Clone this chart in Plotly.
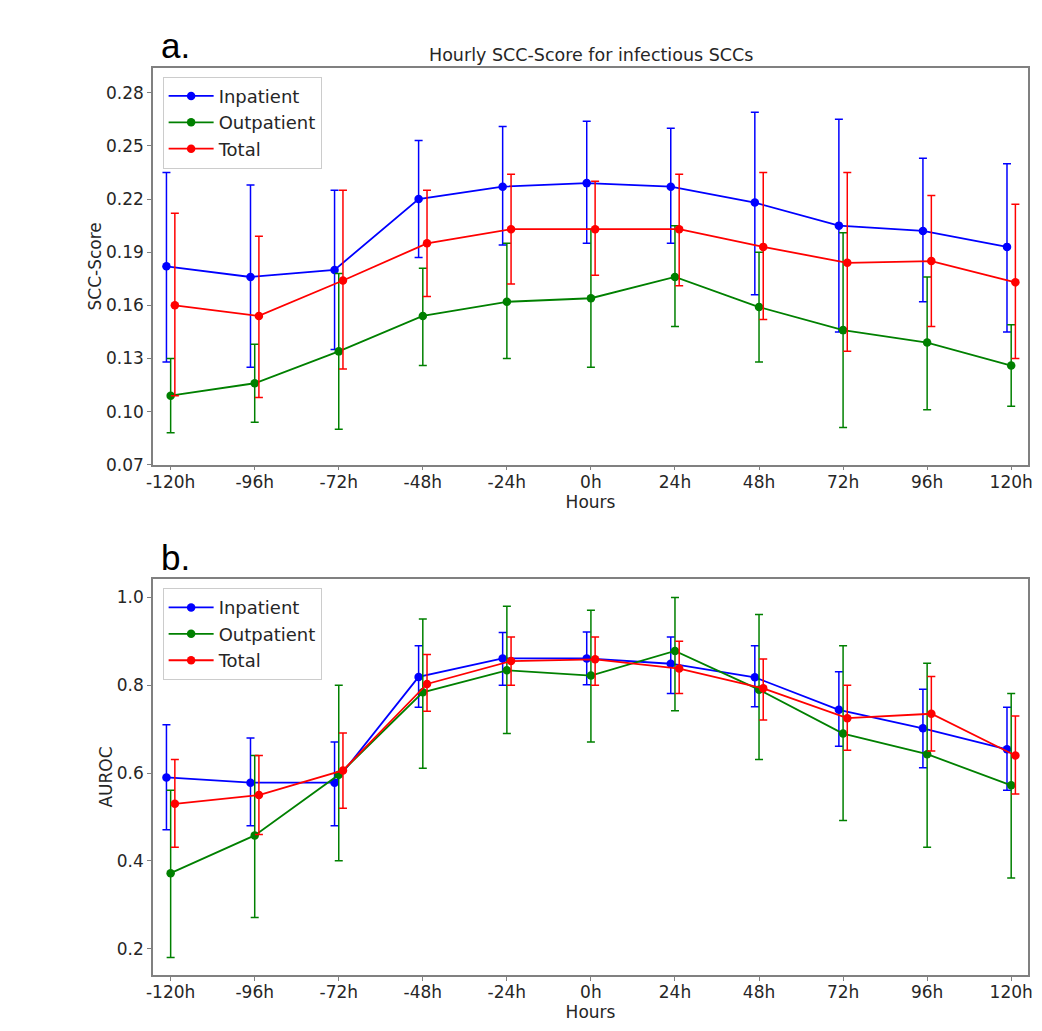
import plotly.graph_objects as go

hours = ["-120h", "-96h", "-72h", "-48h", "-24h", "0h", "24h", "48h", "72h", "96h", "120h"]
series_names = ["Inpatient", "Outpatient", "Total"]

# Panel a: SCC-Score (value, lower bound, upper bound)
scc_in = [0.182, 0.176, 0.180, 0.220, 0.227, 0.229, 0.227, 0.218, 0.205, 0.202, 0.193]
scc_in_lo = [0.128, 0.125, 0.135, 0.187, 0.194, 0.195, 0.195, 0.166, 0.145, 0.162, 0.145]
scc_in_hi = [0.235, 0.228, 0.225, 0.253, 0.261, 0.264, 0.260, 0.269, 0.265, 0.243, 0.240]

scc_out = [0.109, 0.116, 0.134, 0.154, 0.162, 0.164, 0.176, 0.159, 0.146, 0.139, 0.126]
scc_out_lo = [0.088, 0.094, 0.090, 0.126, 0.130, 0.125, 0.148, 0.128, 0.091, 0.101, 0.103]
scc_out_hi = [0.130, 0.138, 0.178, 0.181, 0.195, 0.203, 0.205, 0.190, 0.201, 0.176, 0.149]

scc_tot = [0.160, 0.154, 0.174, 0.195, 0.203, 0.203, 0.203, 0.193, 0.184, 0.185, 0.173]
scc_tot_lo = [0.109, 0.108, 0.124, 0.165, 0.172, 0.177, 0.171, 0.152, 0.134, 0.148, 0.130]
scc_tot_hi = [0.212, 0.199, 0.225, 0.225, 0.234, 0.230, 0.234, 0.235, 0.235, 0.222, 0.217]

# Panel b: AUROC (value, lower bound, upper bound)
auc_in = [0.590, 0.578, 0.578, 0.819, 0.861, 0.861, 0.849, 0.818, 0.744, 0.702, 0.654]
auc_in_lo = [0.471, 0.480, 0.480, 0.750, 0.800, 0.801, 0.781, 0.751, 0.661, 0.612, 0.561]
auc_in_hi = [0.710, 0.680, 0.671, 0.890, 0.920, 0.921, 0.910, 0.890, 0.831, 0.791, 0.750]

auc_out = [0.372, 0.458, 0.596, 0.784, 0.834, 0.822, 0.878, 0.790, 0.690, 0.643, 0.572]
auc_out_lo = [0.180, 0.271, 0.400, 0.611, 0.690, 0.671, 0.742, 0.631, 0.492, 0.431, 0.361]
auc_out_hi = [0.561, 0.640, 0.800, 0.951, 0.980, 0.971, 1.000, 0.961, 0.890, 0.850, 0.781]

auc_tot = [0.530, 0.550, 0.606, 0.803, 0.855, 0.859, 0.838, 0.793, 0.725, 0.735, 0.640]
auc_tot_lo = [0.431, 0.460, 0.520, 0.741, 0.800, 0.800, 0.781, 0.721, 0.652, 0.650, 0.552]
auc_tot_hi = [0.631, 0.640, 0.691, 0.870, 0.910, 0.910, 0.900, 0.860, 0.800, 0.820, 0.730]

colors = ["#0000ff", "#008000", "#ff0000"]
offsets = [-0.05, 0.0, 0.05]
base_x = list(range(len(hours)))

font_family = "DejaVu Sans"
text_color = "#262626"

fig = go.Figure()

panels = [
    ("x", "y", "legend", [(scc_in, scc_in_lo, scc_in_hi), (scc_out, scc_out_lo, scc_out_hi), (scc_tot, scc_tot_lo, scc_tot_hi)]),
    ("x2", "y2", "legend2", [(auc_in, auc_in_lo, auc_in_hi), (auc_out, auc_out_lo, auc_out_hi), (auc_tot, auc_tot_lo, auc_tot_hi)]),
]

for xa, ya, leg, data in panels:
    for name, color, off, (vals, lo, hi) in zip(series_names, colors, offsets, data):
        fig.add_trace(go.Scatter(
            x=[b + off for b in base_x], y=vals, name=name,
            mode="lines+markers", xaxis=xa, yaxis=ya, legend=leg,
            line=dict(color=color, width=1.8),
            marker=dict(color=color, size=8.5),
            error_y=dict(type="data", symmetric=False,
                         array=[h - v for h, v in zip(hi, vals)],
                         arrayminus=[v - l for v, l in zip(vals, lo)],
                         color=color, thickness=1.5, width=4),
        ))

axis_common = dict(showline=True, mirror=True, linecolor="#808080", linewidth=1.5,
                   showgrid=False, zeroline=False, ticks="outside", ticklen=4,
                   tickcolor="#808080", tickwidth=1.2,
                   tickfont=dict(family=font_family, size=17, color=text_color))
title_font = dict(family=font_family, size=17, color=text_color)
legend_common = dict(x=0.011, xanchor="left", yanchor="top",
                     bgcolor="rgba(255,255,255,0.8)", bordercolor="#cccccc", borderwidth=1,
                     font=dict(family=font_family, size=18, color=text_color),
                     tracegroupgap=0, itemwidth=45)

fig.update_layout(
    width=1034, height=1015,
    paper_bgcolor="white", plot_bgcolor="white",
    margin=dict(l=145, r=9, t=60, b=45),
    showlegend=True,
    xaxis=dict(domain=[0, 1], anchor="y", range=[-0.21, 10.2], tickmode="array",
               tickvals=base_x, ticktext=hours, ticklabelstandoff=-3,
               title=dict(text="Hours", standoff=0, font=title_font),
               **axis_common),
    yaxis=dict(domain=[0.5626, 1.0], anchor="x", range=[0.07, 0.294], tickmode="array",
               tickvals=[0.07, 0.10, 0.13, 0.16, 0.19, 0.22, 0.25, 0.28], tickformat=".2f",
               title=dict(text="SCC-Score", standoff=0, font=title_font),
               **axis_common),
    xaxis2=dict(domain=[0, 1], anchor="y2", range=[-0.21, 10.2], tickmode="array",
                tickvals=base_x, ticktext=hours, ticklabelstandoff=-3,
                title=dict(text="Hours", standoff=0, font=title_font),
                **axis_common),
    yaxis2=dict(domain=[0.0, 0.4366], anchor="x2", range=[0.14, 1.042], tickmode="array",
                tickvals=[0.2, 0.4, 0.6, 0.8, 1.0], tickformat=".1f",
                title=dict(text="AUROC", standoff=0, font=title_font),
                **axis_common),
    legend=dict(y=0.9904, **legend_common),
    legend2=dict(y=0.4264, **legend_common),
    annotations=[
        dict(text="Hourly SCC-Score for infectious SCCs", x=0.5, y=1.0, xref="paper", yref="paper",
             xanchor="center", yanchor="bottom", yshift=1, showarrow=False,
             font=dict(family=font_family, size=17.5, color=text_color)),
        dict(text="a.", x=0.0, y=1.0, xref="paper", yref="paper", xanchor="left", yanchor="bottom",
             xshift=6, yshift=1, showarrow=False,
             font=dict(family="Liberation Sans", size=35, color="black")),
        dict(text="b.", x=0.0, y=0.4366, xref="paper", yref="paper", xanchor="left", yanchor="bottom",
             xshift=6, yshift=0, showarrow=False,
             font=dict(family="Liberation Sans", size=35, color="black")),
    ],
)

fig.write_html("out.html")
